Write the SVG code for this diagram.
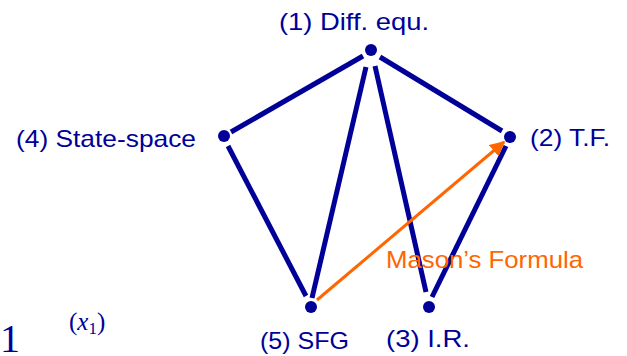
<svg xmlns="http://www.w3.org/2000/svg" width="627" height="356" viewBox="0 0 627 356">
<defs>
<style>
.lbl{font-family:"Liberation Sans","DejaVu Sans",sans-serif;font-size:24px;fill:#000099}
.e{stroke:#000099;stroke-width:5;stroke-linecap:butt;fill:none}
.dot{fill:#000099}
.math{font-family:"Liberation Serif","DejaVu Serif",serif;fill:#000099}
</style>
<marker id="ah" viewBox="0 0 10 10" refX="9" refY="5" markerWidth="5" markerHeight="5" orient="auto" markerUnits="strokeWidth">
<path d="M0,0 L10,5 L0,10 z" fill="#FF6600"/>
</marker>
</defs>
<g id="connectors">
<line class="e" x1="363" y1="56" x2="231" y2="132"/>
<line class="e" x1="380" y1="57" x2="502" y2="131"/>
<line class="e" x1="366" y1="67" x2="312" y2="298"/>
<line class="e" x1="375" y1="66" x2="426" y2="292"/>
<line class="e" x1="228" y1="146" x2="306" y2="296"/>
<line class="e" x1="506" y1="146" x2="432" y2="297"/>
<line x1="317" y1="300" x2="504" y2="142" stroke="#FF6600" stroke-width="3" marker-end="url(#ah)"/>
<text x="386" y="268" style="font-family:'Liberation Sans','DejaVu Sans',sans-serif;font-size:24px;fill:#FF6600" textLength="197" lengthAdjust="spacingAndGlyphs">Mason’s Formula</text>
</g>
<g id="n1"><circle class="dot" cx="371" cy="50" r="6"/><text class="lbl" x="279" y="30" textLength="150" lengthAdjust="spacingAndGlyphs">(1) Diff. equ.</text></g>
<g id="n2"><circle class="dot" cx="510" cy="137" r="6"/><text class="lbl" x="530" y="146" textLength="80" lengthAdjust="spacingAndGlyphs">(2) T.F.</text></g>
<g id="n3"><circle class="dot" cx="429" cy="307" r="6"/><text class="lbl" x="386" y="347" textLength="84" lengthAdjust="spacingAndGlyphs">(3) I.R.</text></g>
<g id="n4"><circle class="dot" cx="224" cy="136" r="6"/><text class="lbl" x="16" y="147" textLength="180" lengthAdjust="spacingAndGlyphs">(4) State-space</text></g>
<g id="n5"><circle class="dot" cx="311" cy="307" r="6"/><text class="lbl" x="260" y="349" textLength="89" lengthAdjust="spacingAndGlyphs">(5) SFG</text></g>
<text class="math" x="0" y="352" font-size="40">1</text>
<text class="math" x="69" y="330" font-size="25">(<tspan font-style="italic">x</tspan><tspan font-size="17" dy="4">1</tspan><tspan dy="-4">)</tspan></text>
</svg>
